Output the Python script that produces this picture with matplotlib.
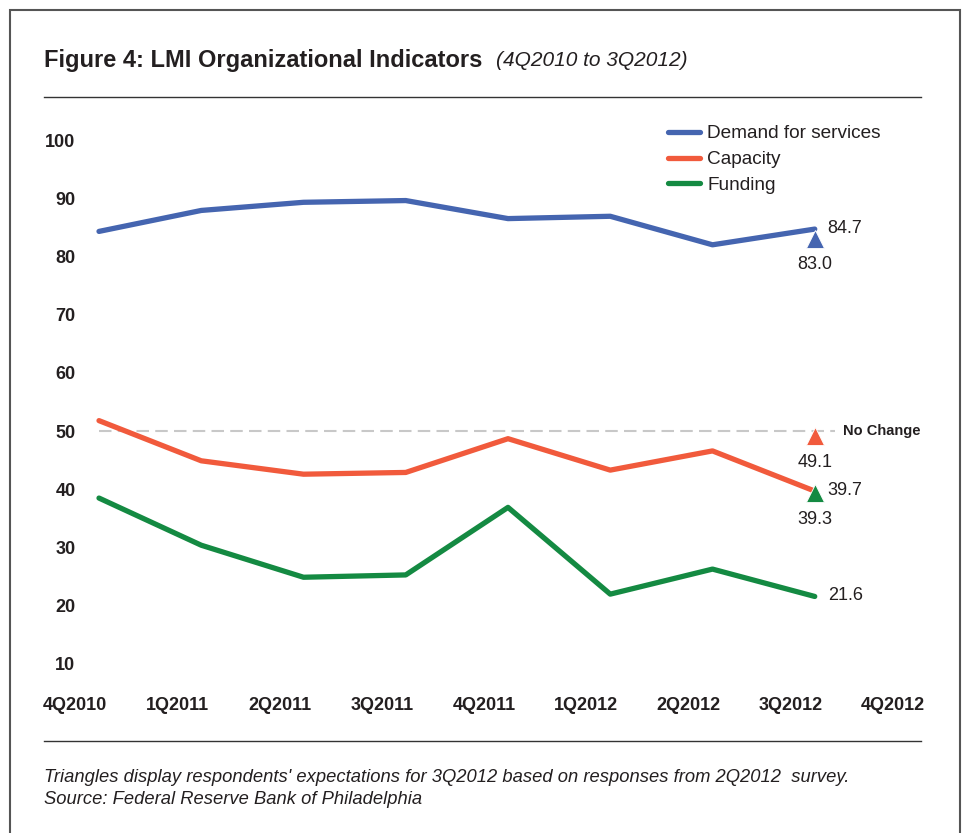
import matplotlib
matplotlib.use("Agg")
import matplotlib.pyplot as plt
import matplotlib.transforms as mtransforms
from matplotlib.lines import Line2D
from matplotlib.patches import Rectangle

plt.rcParams["font.family"] = ["Liberation Sans", "DejaVu Sans"]

quarters = ["4Q2010", "1Q2011", "2Q2011", "3Q2011", "4Q2011",
            "1Q2012", "2Q2012", "3Q2012", "4Q2012"]
demand = [84.3, 87.9, 89.3, 89.6, 86.5, 86.9, 82.0, 84.7]
capacity = [51.8, 44.9, 42.6, 42.9, 48.7, 43.3, 46.6, 39.7]
funding = [38.5, 30.4, 24.9, 25.3, 36.9, 22.0, 26.3, 21.6]

# expectations for 3Q2012 from the 2Q2012 survey
expected = {"demand": 83.0, "capacity": 49.1, "funding": 39.3}
no_change = 50

BLUE = "#4565b0"
RED = "#f15a3c"
GREEN = "#148a42"
INK = "#231f20"

W, H = 967, 833
fig = plt.figure(figsize=(W / 100, H / 100), dpi=100)


def px(x, y):
    """figure-pixel (top-left origin) -> figure fraction"""
    return x / W, 1 - y / H


ax = fig.add_axes([99 / W, 1 - 664 / H, 818 / W, 524 / H])
ax.set_xlim(0, 8)
ax.set_ylim(10, 100)
for s in ax.spines.values():
    s.set_visible(False)

xs = list(range(len(demand)))
series = [("Demand for services", demand, BLUE, "demand"),
          ("Capacity", capacity, RED, "capacity"),
          ("Funding", funding, GREEN, "funding")]
for label, vals, color, key in series:
    ax.plot(xs, vals, color=color, lw=3.8, solid_capstyle="round",
            solid_joinstyle="round", label=label, clip_on=False, zorder=3)

# "no change" reference line
ax.plot([0, 7.2], [no_change, no_change], color="#c8c8c8", lw=1.5,
        dashes=(6, 3), zorder=1)
ax.annotate("No Change", (7, no_change), xytext=(28, 0),
            textcoords="offset pixels", ha="left", va="center",
            fontsize=10.5, fontweight="bold", color=INK)

# expectation triangles with their values
last = xs[-1]
for label, vals, color, key in series:
    ev = expected[key]
    ax.plot([last], [ev], marker="^", ms=12.5, color=color,
            mec="white", mew=0.6, zorder=4, clip_on=False)
    ax.annotate(f"{ev:.1f}", (last, ev), xytext=(0, -26),
                textcoords="offset pixels", ha="center", va="center",
                fontsize=13, color=INK)

# last actual value labels
for label, vals, color, key in series:
    ax.annotate(f"{vals[-1]:.1f}", (last, vals[-1]), xytext=(13, 1),
                textcoords="offset pixels", ha="left", va="center",
                fontsize=13, color=INK)

ax.set_yticks(range(10, 101, 10))
ax.set_yticklabels([str(v) for v in range(10, 101, 10)],
                   fontsize=13, fontweight="bold", color=INK)
ax.set_xticks(range(len(quarters)))
ax.set_xticklabels(quarters, fontsize=13, fontweight="bold", color=INK)
ax.tick_params(axis="y", length=0, pad=17)
ax.tick_params(axis="x", length=0, pad=24)
shift = mtransforms.ScaledTranslation(-24 / 100, 0, fig.dpi_scale_trans)
for t in ax.get_xticklabels():
    t.set_transform(t.get_transform() + shift)

ax.legend(loc="upper left", bbox_to_anchor=px(668, 125),
          bbox_transform=fig.transFigure, frameon=False, fontsize=13.7,
          handlelength=1.7, handletextpad=0.35, labelspacing=0.45,
          borderpad=0, borderaxespad=0, labelcolor=INK)

# header, rules, footnote and outer frame
fig.text(*px(44, 60), "Figure 4: LMI Organizational Indicators",
         fontsize=17, fontweight="bold", color=INK, va="center", ha="left")
fig.text(*px(496, 61), "(4Q2010 to 3Q2012)", fontsize=15, style="italic",
         color=INK, va="center", ha="left")
for y in (97, 741):
    fig.add_artist(Line2D([44 / W, 921 / W], [1 - y / H, 1 - y / H],
                          color="#333333", lw=1.0))
fig.text(*px(44, 777),
         "Triangles display respondents' expectations for 3Q2012 based on "
         "responses from 2Q2012  survey.",
         fontsize=13.2, style="italic", color=INK, va="center", ha="left")
fig.text(*px(44, 799), "Source: Federal Reserve Bank of Philadelphia",
         fontsize=13.2, style="italic", color=INK, va="center", ha="left")
fig.add_artist(Rectangle(px(10, 840), 950 / W, 830 / H, fill=False,
                         edgecolor="#555555", lw=1.5,
                         transform=fig.transFigure, clip_on=False))

fig.savefig("out.png", dpi=100)
